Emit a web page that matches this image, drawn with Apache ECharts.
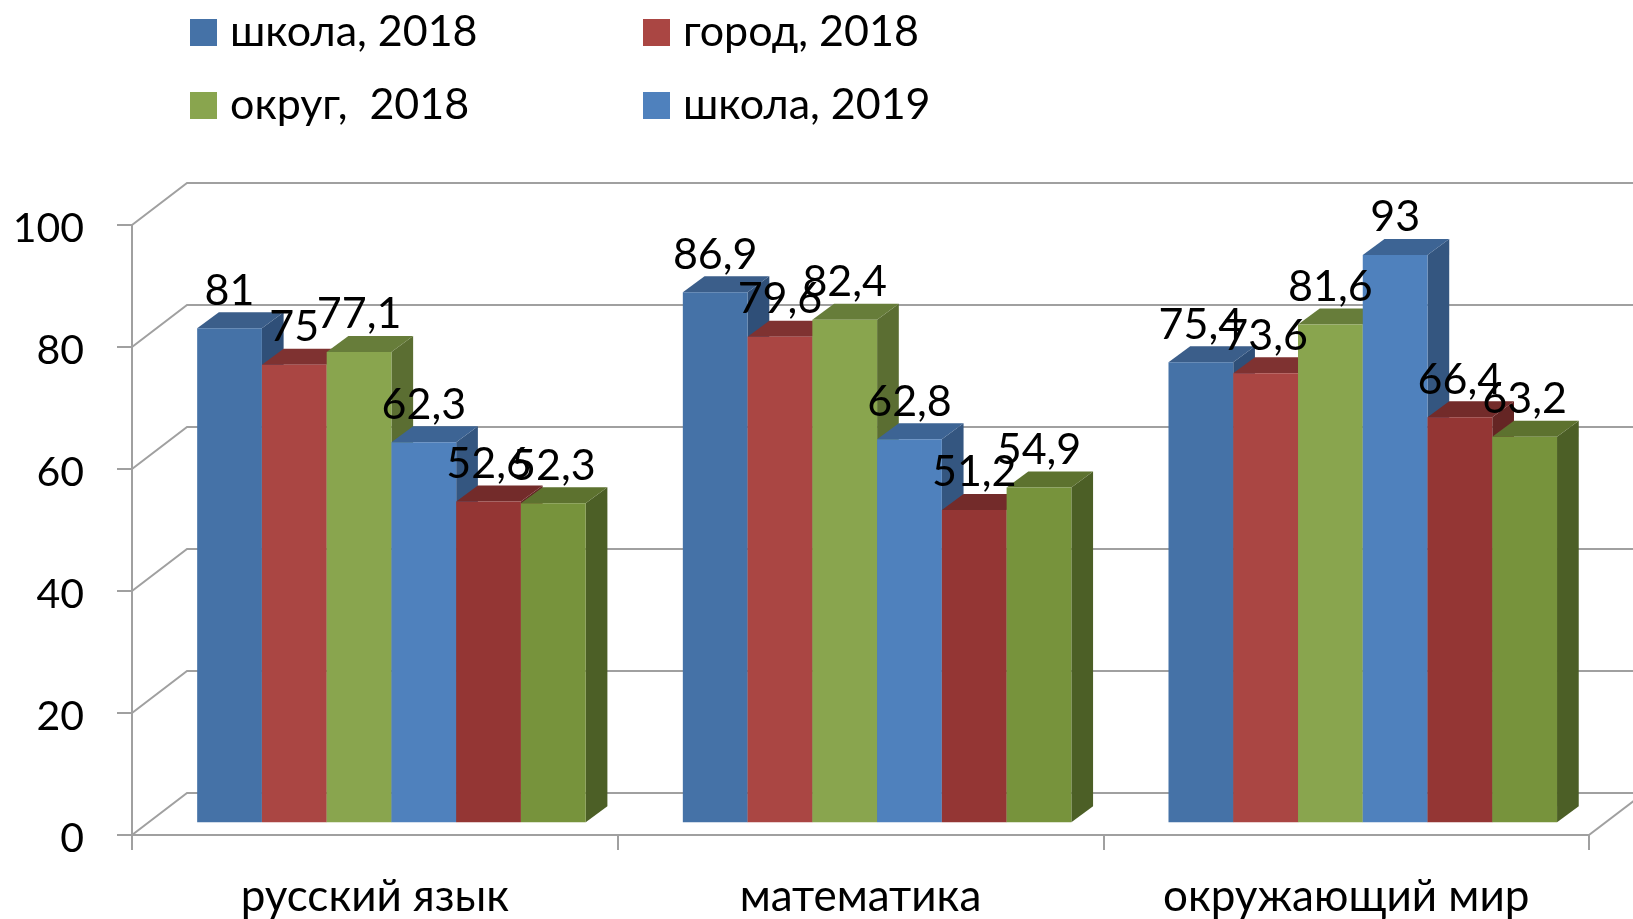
<!DOCTYPE html>
<html>
<head>
<meta charset="utf-8">
<style>html,body{margin:0;padding:0;background:#fff}</style>
<script src="https://cdn.jsdelivr.net/npm/echarts@6/dist/echarts.min.js"></script>
</head>
<body>
<div id="chart" style="width:1633px;height:919px"></div>
<script>
var categories = ['русский язык', 'математика', 'окружающий мир'];
var yTicks = [0, 20, 40, 60, 80, 100];
var seriesNames = ['школа, 2018', 'город, 2018', 'округ,  2018', 'школа, 2019', 'город, 2019', 'округ, 2019'];
var school2018 = [81, 86.9, 75.4];
var city2018 = [75, 79.6, 73.6];
var district2018 = [77.1, 82.4, 81.6];
var school2019 = [62.3, 62.8, 93];
var city2019 = [52.6, 51.2, 66.4];
var district2019 = [52.3, 54.9, 63.2];
var seriesValues = [school2018, city2018, district2018, school2019, city2019, district2019];

// front, top, side
var shades = [
    ['#4572a7', '#3b5e8a', '#2f4f78'],
    ['#aa4643', '#7f3231', '#6b2827'],
    ['#89a54e', '#677d3a', '#5b6e32'],
    ['#4f81bd', '#3d6494', '#345680'],
    ['#943634', '#732b2a', '#652524'],
    ['#77933c', '#5d722f', '#4c5f26']
];
var font = 'Lato, "Noto Sans", sans-serif';
var lineColor = '#a0a0a0';
// 3d walls depth and bar depth, px
var wallDx = 55, wallDy = 42;
var floorDx = 16.6, floorDy = 12.7;
var barDx = 21.7, barDy = 16;

var myChart = echarts.init(document.getElementById('chart'));

function renderWall(params, api) {
    var box = params.coordSys;
    var y = api.coord([0, api.value(0)])[1];
    return {
        type: 'polyline',
        shape: {points: [[box.x, y], [box.x + wallDx, y - wallDy], [box.x + box.width + wallDx, y - wallDy]]},
        style: {stroke: lineColor, lineWidth: 2, fill: null}
    };
}

function renderFloorEdge(params, api) {
    var box = params.coordSys;
    var y = api.coord([0, 0])[1];
    var x = box.x + box.width;
    return {
        type: 'line',
        shape: {x1: x, y1: y, x2: x + wallDx, y2: y - wallDy},
        style: {stroke: lineColor, lineWidth: 2}
    };
}

function makeBarRenderer(s) {
    return function (params, api) {
        var i = api.value(0), v = api.value(1);
        var band = api.size([1, 0])[0];
        var w = band / 7.5;
        var top = api.coord([i, v]);
        var base = api.coord([i, 0]);
        var x = top[0] - 3 * w + s * w + floorDx;
        var y1 = top[1] - floorDy;
        var y0 = base[1] - floorDy;
        return {
            type: 'group',
            children: [{
                type: 'polygon',
                z2: s,
                shape: {points: [[x + w, y1], [x + w + barDx, y1 - barDy], [x + w + barDx, y0 - barDy], [x + w, y0]]},
                style: {fill: shades[s][2]}
            }, {
                type: 'polygon',
                z2: s,
                shape: {points: [[x, y1], [x + barDx, y1 - barDy], [x + w + barDx, y1 - barDy], [x + w, y1]]},
                style: {fill: shades[s][1]}
            }, {
                type: 'rect',
                z2: s,
                shape: {x: x, y: y1, width: w, height: y0 - y1},
                style: {fill: shades[s][0]}
            }, {
                type: 'text',
                z2: 100,
                style: {
                    x: x + w / 2,
                    y: y1 - 16,
                    text: String(v).replace('.', ','),
                    fill: '#000',
                    font: '43px ' + font,
                    align: 'center',
                    verticalAlign: 'bottom'
                }
            }]
        };
    };
}

var series = [{
    type: 'custom',
    name: 'стены',
    silent: true,
    renderItem: renderWall,
    encode: {y: 0},
    data: yTicks.map(function (t) { return [t]; }),
    z: 1
}, {
    type: 'custom',
    name: 'пол',
    silent: true,
    renderItem: renderFloorEdge,
    data: [[0]],
    z: 1
}];
seriesNames.forEach(function (name, s) {
    series.push({
        type: 'custom',
        name: name,
        renderItem: makeBarRenderer(s),
        encode: {x: 0, y: 1},
        itemStyle: {color: shades[s][0]},
        data: seriesValues[s].map(function (v, i) { return [i, v]; }),
        z: 2
    });
});

function legendBlock(left, names) {
    return {
        left: left,
        top: 11,
        padding: 0,
        orient: 'vertical',
        selectedMode: false,
        icon: 'rect',
        itemWidth: 27,
        itemHeight: 27,
        itemGap: 30,
        data: names,
        textStyle: {fontFamily: font, fontSize: 43, color: '#000', padding: [0, 0, 0, 8]}
    };
}

var option = {
    animation: false,
    backgroundColor: '#fff',
    legend: [
        legendBlock(190, [seriesNames[0], seriesNames[2]]),
        legendBlock(643, [seriesNames[1], seriesNames[3]])
    ],
    grid: {left: 132, right: 44, top: 225, bottom: 84, outerBoundsMode: 'none'},
    xAxis: {
        type: 'category',
        data: categories,
        axisLine: {lineStyle: {color: lineColor, width: 2}},
        axisTick: {show: true, length: 15, lineStyle: {color: lineColor, width: 2}},
        axisLabel: {color: '#000', fontFamily: font, fontSize: 44, margin: 40, interval: 0},
        splitLine: {show: false}
    },
    yAxis: {
        type: 'value',
        min: 0,
        max: 100,
        interval: 20,
        axisLine: {show: true, lineStyle: {color: lineColor, width: 2}},
        axisTick: {show: true, length: 15, lineStyle: {color: lineColor, width: 2}},
        // small line box with top align pushes the digits a few px below the tick
        axisLabel: {color: '#000', fontFamily: font, fontSize: 41, margin: 48, verticalAlign: 'top', lineHeight: 8},
        splitLine: {show: false}
    },
    series: series
};
myChart.setOption(option);
</script>
</body>
</html>
